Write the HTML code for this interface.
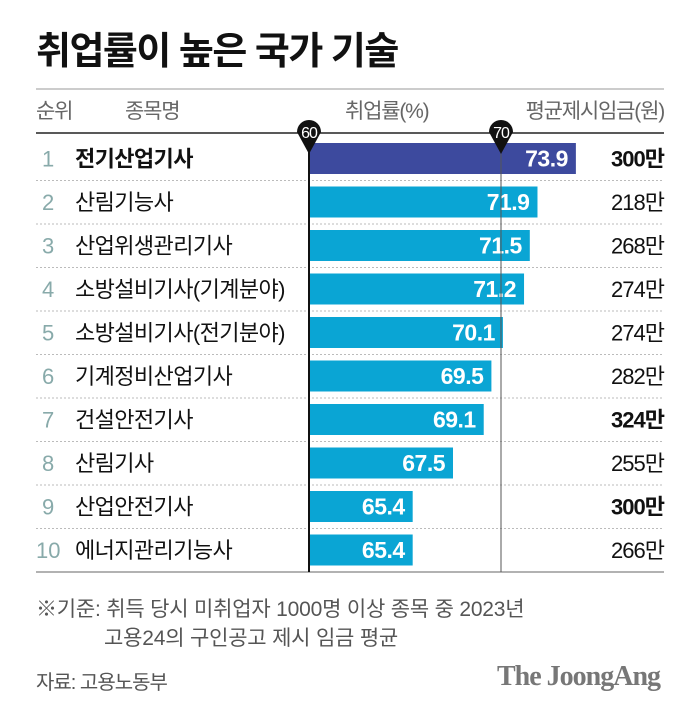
<!DOCTYPE html>
<html><head><meta charset="utf-8"><style>
body{margin:0;background:#fff;font-family:"Liberation Sans","Noto Sans CJK KR",sans-serif;}
#wrap{position:relative;width:676px;height:708px;overflow:hidden;}
.t{position:absolute;white-space:nowrap;}
</style></head><body>
<div id="wrap">
<div class="t" style="left:36px;top:20px;font-size:38px;font-weight:bold;letter-spacing:-1.5px;color:#111;">취업률이 높은 국가 기술</div>
<svg id="svg" width="676" height="708" style="position:absolute;left:0;top:0"></svg>
<div class="t" style="left:36px;top:593px;font-size:21px;color:#555;letter-spacing:-0.2px;">※기준: 취득 당시 미취업자 1000명 이상 종목 중 2023년</div>
<div class="t" style="left:104px;top:622px;font-size:21px;color:#555;letter-spacing:-0.2px;">고용24의 구인공고 제시 임금 평균</div>
<div class="t" style="left:36px;top:666px;font-size:20px;color:#555;letter-spacing:-1px;">자료: 고용노동부</div>
<div class="t" style="left:497px;top:661px;font-size:28px;font-weight:bold;color:#777;font-family:'Liberation Serif',serif;letter-spacing:-1px;">The JoongAng</div>
</div>
<script>
const ranks=["1","2","3","4","5","6","7","8","9","10"];
const names=["전기산업기사","산림기능사","산업위생관리기사","소방설비기사(기계분야)","소방설비기사(전기분야)","기계정비산업기사","건설안전기사","산림기사","산업안전기사","에너지관리기능사"];
const rates=[73.9,71.9,71.5,71.2,70.1,69.5,69.1,67.5,65.4,65.4];
const wages=[300,218,268,274,274,282,324,255,300,266];
const boldWage=[true,false,false,false,false,false,true,false,true,false];
const ticks=[60,70];
const NS="http://www.w3.org/2000/svg";
const svg=document.getElementById('svg');
const x=v=>309+(v-60)*19.2;
const yc=i=>158.5+i*43.5;
function mk(tag,attrs,txt){const e=document.createElementNS(NS,tag);for(const k in attrs)e.setAttribute(k,attrs[k]);if(txt!=null)e.textContent=txt;svg.appendChild(e);return e;}
const F='"Liberation Sans","Noto Sans CJK KR",sans-serif';
let e;
e=mk('line',{x1:36,x2:664,y1:89,y2:89,stroke:'#bbb','stroke-width':1.5});

const hdr=[["순위",36,'start'],["종목명",125,'start'],["취업률(%)",345,'start'],["평균제시임금(원)",664,'end']];
hdr.forEach(h=>{e=mk('text',{x:h[1],y:118,'font-size':21,fill:'#666','text-anchor':h[2],'font-family':F,'letter-spacing':'-1.2'},h[0]);
});
e=mk('line',{x1:36,x2:664,y1:133,y2:133,stroke:'#222','stroke-width':1.5});

ranks.forEach((r,i)=>{
 const y=yc(i);
 if(i<9){e=mk('line',{x1:36,x2:664,y1:y+22,y2:y+22,stroke:'#bbb','stroke-width':1,'stroke-dasharray':'2,2'});
 }
 e=mk('rect',{x:x(60),y:y-15.5,width:x(rates[i])-x(60),height:31,fill:i==0?'#3d4a9e':'#0aa5d4'});
 
 e=mk('text',{x:x(rates[i])-8,y:y+8,'font-size':23,fill:'#fff','text-anchor':'end','font-family':F,'font-weight':'bold','letter-spacing':'-0.5'},rates[i].toFixed(1));
 
 e=mk('text',{x:r.length>1?36:42,y:y+8,'font-size':22,fill:'#8aa','font-family':F},r);
 
 e=mk('text',{x:75,y:y+8,'font-size':22,fill:'#111','font-family':F,'font-weight':i==0?'bold':'normal','letter-spacing':'-0.6'},names[i]);
 
 e=mk('text',{x:664,y:y+8,'font-size':22,fill:'#111','text-anchor':'end','font-family':F,'font-weight':boldWage[i]?'bold':'normal','letter-spacing':'-1'},wages[i]+'만');
 
});
e=mk('line',{x1:36,x2:664,y1:yc(9)+22,y2:yc(9)+22,stroke:'#999','stroke-width':1.5});

ticks.forEach((t,k)=>{
 const tx=x(t);
 e=mk('line',{x1:tx,x2:tx,y1:140,y2:yc(9)+22,stroke:k==0?'#111':'#555','stroke-width':k==0?2:1});
 
 e=mk('path',{d:`M${tx-12},132 A12,12 0 1 1 ${tx+12},132 L${tx},154 Z`,fill:'#111'});
 
 e=mk('text',{x:tx,y:138,'font-size':16,fill:'#fff','text-anchor':'middle','font-family':F,'letter-spacing':'-1'},t);
 
});
</script>
</body></html>
